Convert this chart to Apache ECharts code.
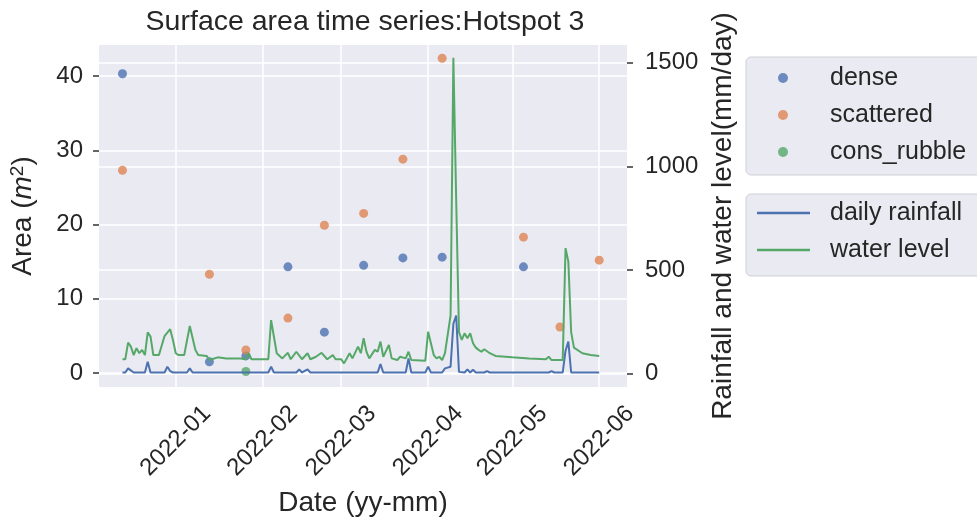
<!DOCTYPE html>
<html>
<head>
<meta charset="utf-8">
<script src="https://cdn.jsdelivr.net/npm/echarts@6/dist/echarts.min.js"></script>
<style>
  html, body { margin: 0; padding: 0; background: #fff; }
  #myChart { width: 977px; height: 527px; }
</style>
</head>
<body>
<div id="myChart"></div>
<script>
// sample dates of the surface area survey
var sampleDates = ['2021-12-13', '2022-01-13', '2022-01-26', '2022-02-10', '2022-02-23', '2022-03-09',
    '2022-03-23', '2022-04-06', '2022-05-05', '2022-05-18', '2022-06-01'];
var dense = [40.3, 1.5, 2.3, 14.3, 5.5, 14.5, 15.5, 15.6, 14.3, null, null];
var scattered = [27.3, 13.3, 3.1, 7.4, 19.9, 21.5, 28.8, 42.4, 18.3, 6.2, 15.2];
var consRubble = [null, null, 0.2, null, null, null, null, null, null, null, null];

// daily rainfall (mm/day)
var rainDates = ['2021-12-13', '2021-12-14', '2021-12-15', '2021-12-17', '2021-12-21', '2021-12-22', '2021-12-23',
    '2021-12-28', '2021-12-29', '2021-12-30', '2021-12-31', '2022-01-05', '2022-01-06', '2022-01-07',
    '2022-02-03', '2022-02-04', '2022-02-05', '2022-02-13', '2022-02-14', '2022-02-15', '2022-02-17', '2022-02-18',
    '2022-03-14', '2022-03-15', '2022-03-16', '2022-03-24', '2022-03-25', '2022-03-26',
    '2022-03-31', '2022-04-01', '2022-04-02', '2022-04-06', '2022-04-07', '2022-04-09', '2022-04-10',
    '2022-04-11', '2022-04-12', '2022-04-14', '2022-04-15', '2022-04-16', '2022-04-17', '2022-04-18',
    '2022-04-21', '2022-04-22', '2022-04-23', '2022-05-14', '2022-05-15', '2022-05-16', '2022-05-19',
    '2022-05-20', '2022-05-21', '2022-05-22', '2022-06-01'];
var rainValues = [5, 5, 25, 5, 5, 57, 5,
    5, 33, 12, 5, 5, 25, 5,
    5, 33, 5, 5, 20, 5, 20, 5,
    5, 46, 5, 5, 73, 5,
    5, 33, 5, 5, 25, 33, 240,
    280, 8, 5, 20, 5, 18, 5,
    5, 12, 5, 5, 12, 5, 5,
    110, 154, 5, 5];

// water level
var levelDates = ['2021-12-13', '2021-12-14', '2021-12-15', '2021-12-16', '2021-12-17', '2021-12-18', '2021-12-19',
    '2021-12-20', '2021-12-21', '2021-12-22', '2021-12-23', '2021-12-24', '2021-12-26', '2021-12-28',
    '2021-12-30', '2021-12-31', '2022-01-01', '2022-01-02', '2022-01-04', '2022-01-06', '2022-01-08',
    '2022-01-09', '2022-01-12', '2022-01-13', '2022-01-16', '2022-01-19', '2022-01-24', '2022-01-26',
    '2022-01-27', '2022-01-28', '2022-02-03', '2022-02-04', '2022-02-06', '2022-02-08', '2022-02-10',
    '2022-02-11', '2022-02-13', '2022-02-15', '2022-02-17', '2022-02-18', '2022-02-20', '2022-02-22',
    '2022-02-24', '2022-02-26', '2022-02-27', '2022-03-01', '2022-03-02', '2022-03-04', '2022-03-05',
    '2022-03-07', '2022-03-08', '2022-03-09', '2022-03-10', '2022-03-11', '2022-03-13', '2022-03-14',
    '2022-03-15', '2022-03-16', '2022-03-18', '2022-03-19', '2022-03-21', '2022-03-22', '2022-03-24',
    '2022-03-25', '2022-03-26', '2022-03-31', '2022-04-01', '2022-04-03', '2022-04-04', '2022-04-05',
    '2022-04-06', '2022-04-07', '2022-04-09', '2022-04-10', '2022-04-11', '2022-04-12', '2022-04-13',
    '2022-04-14', '2022-04-15', '2022-04-16', '2022-04-17', '2022-04-18', '2022-04-19', '2022-04-20',
    '2022-04-21', '2022-04-23', '2022-04-25', '2022-05-01', '2022-05-07', '2022-05-13', '2022-05-14',
    '2022-05-15', '2022-05-19', '2022-05-20', '2022-05-21', '2022-05-22', '2022-05-23', '2022-05-26',
    '2022-05-29', '2022-06-01'];
var levelValues = [69, 69, 149, 130, 89, 122, 98,
    114, 89, 199, 178, 89, 89, 181,
    214, 162, 98, 89, 89, 229, 114,
    89, 85, 65, 78, 73, 73, 69,
    98, 69, 69, 258, 98, 73, 100,
    69, 105, 69, 98, 69, 81, 100,
    69, 89, 69, 69, 49, 98, 73,
    130, 98, 170, 105, 73, 114, 105,
    154, 81, 138, 73, 65, 81, 73,
    105, 65, 62, 202, 89, 73, 81,
    65, 98, 280, 1523, 840, 200, 162,
    194, 170, 194, 146, 125, 114, 105,
    117, 98, 85, 78, 72, 69, 81,
    65, 65, 605, 540, 200, 125, 98,
    89, 85];

// x axis month ticks
var monthTicks = ['2022-01-01', '2022-02-01', '2022-03-01', '2022-04-01', '2022-05-01', '2022-06-01'];
var areaTicks = [0, 10, 20, 30, 40];
var rainTicks = [0, 500, 1000, 1500];

var myChart = echarts.init(document.getElementById('myChart'));
var FONT = '"Liberation Sans", Arial, sans-serif';
var TXT = '#262626';

function toTime(s) {
    var p = s.split('-');
    return new Date(+p[0], +p[1] - 1, +p[2]).getTime();
}
function pairs(dates, vals) {
    var out = [];
    for (var i = 0; i < dates.length; i++) {
        if (vals[i] != null) out.push([toTime(dates[i]), vals[i]]);
    }
    return out;
}

var option = {
    backgroundColor: '#fff',
    animation: false,
    title: {
        text: 'Surface area time series:Hotspot 3',
        left: 360, top: 3, textAlign: 'center',
        textStyle: { fontFamily: FONT, fontSize: 28.5, fontWeight: 'normal', color: TXT }
    },
    grid: {
        left: 97, right: 350, top: 45, bottom: 140,
        show: true, backgroundColor: '#EAEAF2', borderWidth: 0
    },
    legend: [{
        orient: 'vertical', left: 746, top: 57,
        padding: [7, 80, 9, 32],
        itemGap: 9, itemWidth: 10, itemHeight: 10,
        icon: 'circle',
        backgroundColor: '#EAEAF2', borderColor: '#cfcfd6', borderWidth: 1, borderRadius: 5,
        textStyle: { fontFamily: FONT, fontSize: 25, color: TXT, lineHeight: 28, padding: [0, 0, 0, 37] },
        data: ['dense', 'scattered', 'cons_rubble']
    }, {
        orient: 'vertical', left: 746, top: 194,
        padding: [5, 80, 12, 11],
        itemGap: 9, itemWidth: 53, itemHeight: 2.5,
        icon: 'rect',
        backgroundColor: '#EAEAF2', borderColor: '#cfcfd6', borderWidth: 1, borderRadius: 5,
        textStyle: { fontFamily: FONT, fontSize: 25, color: TXT, lineHeight: 28, padding: [0, 0, 0, 15] },
        data: ['daily rainfall', 'water level']
    }],
    xAxis: {
        type: 'value',
        min: new Date(2021, 11, 4, 15).getTime(),
        max: new Date(2022, 5, 10, 22).getTime(),
        name: 'Date (yy-mm)', nameLocation: 'middle', nameGap: 102,
        nameTextStyle: { fontFamily: FONT, fontSize: 28, color: TXT },
        axisLine: { show: false },
        axisTick: { show: false, customValues: monthTicks.map(toTime) },
        axisLabel: {
            customValues: monthTicks.map(toTime),
            rotate: 45, align: 'center', verticalAlign: 'middle', margin: 54,
            fontFamily: FONT, fontSize: 24, color: TXT,
            formatter: function (v) {
                var d = new Date(v);
                var m = d.getMonth() + 1;
                return d.getFullYear() + '-' + (m < 10 ? '0' + m : m);
            }
        },
        splitLine: { show: true, lineStyle: { color: '#fff', width: 1.5 } }
    },
    yAxis: [{
        type: 'value', min: -1.886, max: 44.18,
        name: 'Area ({i|m}{s|2})', nameLocation: 'middle', nameRotate: 90, nameGap: 60,
        nameTextStyle: {
            fontFamily: FONT, fontSize: 28, color: TXT,
            rich: {
                i: { fontFamily: FONT, fontSize: 28, fontStyle: 'italic', color: TXT },
                s: { fontFamily: FONT, fontSize: 19, color: TXT, verticalAlign: 'top', padding: [0, 0, 12, 0] }
            }
        },
        axisLine: { show: false },
        axisTick: { show: true, length: 6, customValues: areaTicks, lineStyle: { color: '#333', width: 1.5 } },
        axisLabel: { customValues: areaTicks, margin: 16, fontFamily: FONT, fontSize: 24, color: TXT },
        splitLine: { show: true, lineStyle: { color: '#fff', width: 1.5 } }
    }, {
        type: 'value', min: -65, max: 1585, position: 'right',
        name: 'Rainfall and water level(mm/day)', nameLocation: 'middle', nameRotate: 90, nameGap: 66,
        nameTextStyle: { fontFamily: FONT, fontSize: 28, color: TXT },
        axisLine: { show: false },
        axisTick: { show: true, length: 6, customValues: rainTicks, lineStyle: { color: '#333', width: 1.5 } },
        axisLabel: {
            customValues: rainTicks, margin: 18, fontFamily: FONT, fontSize: 24, color: TXT,
            formatter: function (v) { return String(v); }
        },
        splitLine: { show: true, lineStyle: { color: '#fff', width: 1.5 } }
    }],
    series: [{
        name: 'dense', type: 'scatter', symbolSize: 9, yAxisIndex: 0,
        itemStyle: { color: '#4C72B0' },
        data: pairs(sampleDates, dense)
    }, {
        name: 'scattered', type: 'scatter', symbolSize: 9, yAxisIndex: 0,
        itemStyle: { color: '#DD8452' },
        data: pairs(sampleDates, scattered)
    }, {
        name: 'cons_rubble', type: 'scatter', symbolSize: 9, yAxisIndex: 0,
        itemStyle: { color: '#55A868' },
        data: pairs(sampleDates, consRubble)
    }, {
        name: 'daily rainfall', type: 'line', yAxisIndex: 1, showSymbol: false,
        itemStyle: { color: '#4C72B0' },
        lineStyle: { color: '#4C72B0', width: 2 },
        data: pairs(rainDates, rainValues)
    }, {
        name: 'water level', type: 'line', yAxisIndex: 1, showSymbol: false,
        itemStyle: { color: '#55A868' },
        lineStyle: { color: '#55A868', width: 2 },
        data: pairs(levelDates, levelValues)
    }]
};

myChart.setOption(option);
</script>
</body>
</html>
